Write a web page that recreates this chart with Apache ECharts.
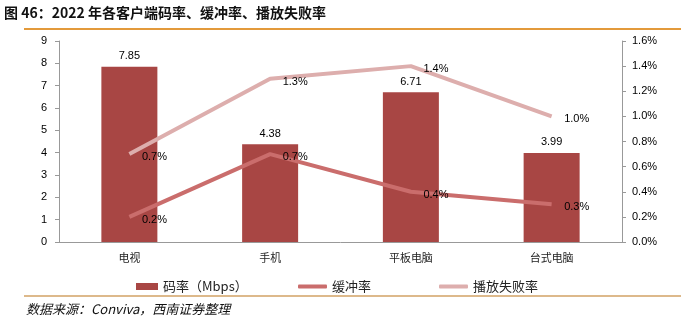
<!DOCTYPE html>
<html><head><meta charset="utf-8">
<script src="https://cdn.jsdelivr.net/npm/echarts@6/dist/echarts.min.js"></script>
<style>html,body{margin:0;padding:0;background:#fff}#c{width:688px;height:325px}</style>
</head><body><div id="c"></div>
<script>
const categories = ['电视', '手机', '平板电脑', '台式电脑'];
const bitrate = [7.85, 4.38, 6.71, 3.99];
const bufferRate = [0.2, 0.7, 0.4, 0.3];
const failRate = [0.7, 1.3, 1.4, 1.0];
const leftTicks = {min: 0, max: 9, interval: 1};
const rightTicks = {min: 0, max: 1.6, interval: 0.2};

const chart = echarts.init(document.getElementById('c'), null, {renderer: 'canvas'});
const lab = {fontFamily: 'Liberation Sans, Arial, sans-serif', fontSize: 11, color: '#000', textBorderWidth: 0, opacity: 1};
const lineLabel = {show: true, position: 'right', distance: 12, offset: [0, 3], formatter: p => Number(p.value).toFixed(1) + '%', ...lab};
chart.setOption({
  animation: false,
  graphic: [
    {type: 'text', left: 4, top: 6, style: {text: '图 46：2022 年各客户端码率、缓冲率、播放失败率', font: 'bold 14px "Noto Sans CJK SC", sans-serif', fill: '#111'}},
    {type: 'line', shape: {x1: 24, y1: 29, x2: 681, y2: 29}, style: {stroke: '#E39A3B', lineWidth: 2}},
    {type: 'line', shape: {x1: 24, y1: 296, x2: 681, y2: 296}, style: {stroke: '#DDB98B', lineWidth: 2}},
    {type: 'text', left: 26, top: 303, style: {text: '数据来源：Conviva，西南证券整理', font: 'italic 13px "Noto Sans CJK SC", sans-serif', fill: '#111'}}
  ],
  grid: {left: 59, right: 66, top: 41, bottom: 83},
  legend: [
    {left: 131, top: 275, itemWidth: 22, itemHeight: 7, icon: 'rect', data: ['码率（Mbps）'], textStyle: {fontFamily: '"Noto Sans CJK SC", sans-serif', fontSize: 13, color: '#222'}},
    {left: 293, top: 275, itemWidth: 29, itemHeight: 4, icon: 'roundRect', data: ['缓冲率'], textStyle: {fontFamily: '"Noto Sans CJK SC", sans-serif', fontSize: 13, color: '#222'}},
    {left: 434, top: 275, itemWidth: 29, itemHeight: 4, icon: 'roundRect', data: ['播放失败率'], textStyle: {fontFamily: '"Noto Sans CJK SC", sans-serif', fontSize: 13, color: '#222'}}
  ],
  xAxis: {
    type: 'category', data: categories,
    axisLine: {lineStyle: {color: '#999'}}, axisTick: {show: false},
    axisLabel: {margin: 10, fontFamily: '"Noto Sans CJK SC", sans-serif', fontSize: 11, color: '#222'}
  },
  yAxis: [
    {type: 'value', ...leftTicks, position: 'left',
     axisLine: {show: true, lineStyle: {color: '#999'}}, axisTick: {show: true, length: 4, lineStyle: {color: '#999'}},
     splitLine: {show: false}, axisLabel: {...lab, margin: 12}},
    {type: 'value', ...rightTicks, position: 'right',
     axisLine: {show: true, lineStyle: {color: '#999'}}, axisTick: {show: true, length: 4, lineStyle: {color: '#999'}},
     splitLine: {show: false}, axisLabel: {...lab, margin: 10, formatter: v => v.toFixed(1) + '%'}}
  ],
  series: [
    {name: '码率（Mbps）', type: 'bar', data: bitrate, barWidth: 56, itemStyle: {color: '#A84644'},
     label: {show: true, position: 'top', distance: 5, ...lab, formatter: p => p.value.toFixed(2)}},
    {name: '缓冲率', type: 'line', yAxisIndex: 1, data: bufferRate, symbol: 'none',
     lineStyle: {width: 4, color: '#CA6D6C'}, itemStyle: {color: '#CA6D6C'}},
    {name: '播放失败率', type: 'line', yAxisIndex: 1, data: failRate, symbol: 'none',
     lineStyle: {width: 4, color: '#DDAEAD'}, itemStyle: {color: '#DDAEAD'}},
    {name: 'bufLabels', type: 'scatter', yAxisIndex: 1, data: bufferRate, symbolSize: 1, z: 20,
     itemStyle: {color: 'rgba(0,0,0,0)'}, label: lineLabel, silent: true},
    {name: 'failLabels', type: 'scatter', yAxisIndex: 1, data: failRate, symbolSize: 1, z: 20,
     itemStyle: {color: 'rgba(0,0,0,0)'}, label: lineLabel, silent: true}
  ]
});
</script></body></html>
